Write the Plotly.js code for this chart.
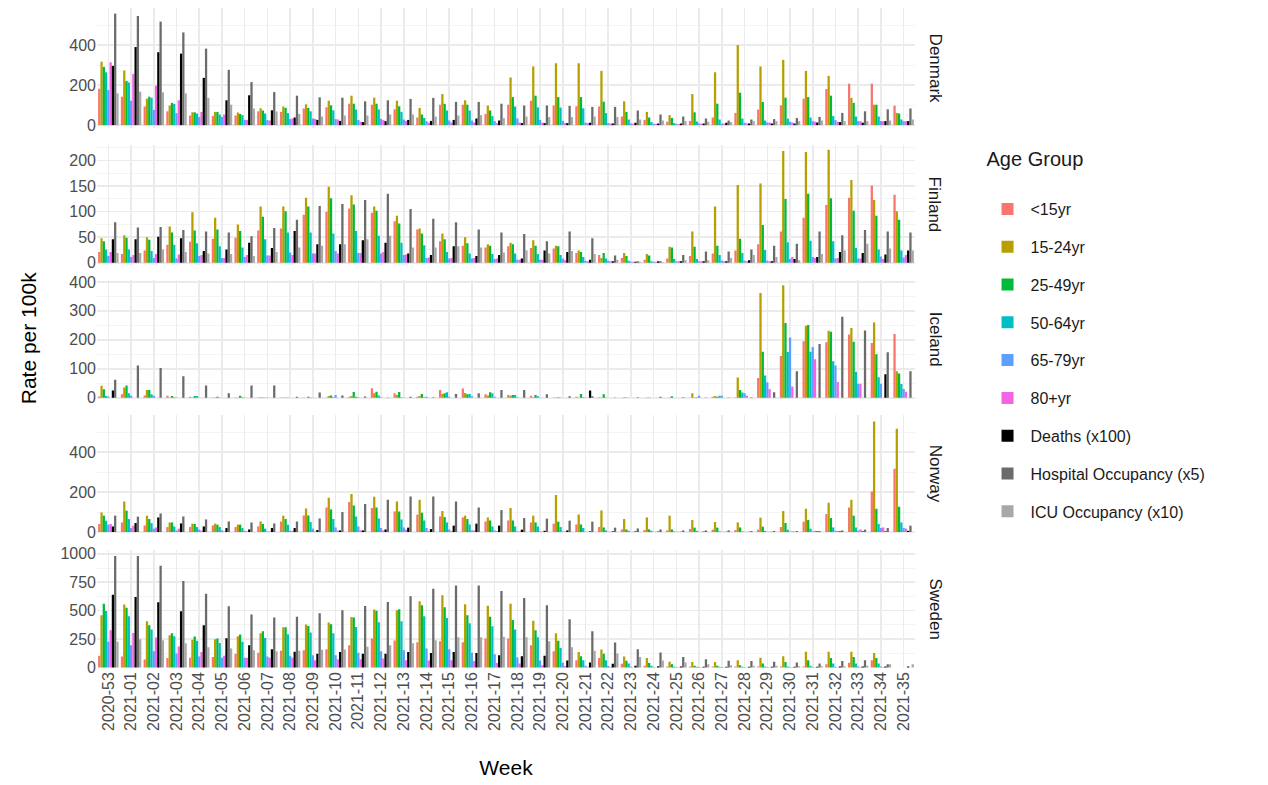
<!DOCTYPE html>
<html>
<head>
<meta charset="utf-8">
<script src="https://cdn.plot.ly/plotly-3.0.1.min.js"></script>
<style>
  html, body { margin: 0; padding: 0; background: #fff; }
  #plot { width: 1268px; height: 785px; }
</style>
</head>
<body>
<div id="plot"></div>
<script>
const weeks = ['2020-53','2021-01','2021-02','2021-03','2021-04','2021-05','2021-06','2021-07','2021-08',
  '2021-09','2021-10','2021-11','2021-12','2021-13','2021-14','2021-15','2021-16','2021-17','2021-18',
  '2021-19','2021-20','2021-21','2021-22','2021-23','2021-24','2021-25','2021-26','2021-27','2021-28',
  '2021-29','2021-30','2021-31','2021-32','2021-33','2021-34','2021-35'];

const groups = ['<15yr','15-24yr','25-49yr','50-64yr','65-79yr','80+yr',
  'Deaths (x100)','Hospital Occupancy (x5)','ICU Occupancy (x10)'];
const colors = ['#F8766D','#B79F00','#00BA38','#00BFC4','#619CFF','#F564E3','#000000','#6b6b6b','#a8a8a8'];

// Denmark
const dk_u15  = [182,142,93,69,48,45,48,69,66,83,89,107,102,79,38,102,102,56,102,122,98,94,93,43,26,17,21,38,61,78,99,132,180,207,207,97];
const dk_1524 = [317,273,132,98,64,66,63,84,93,104,122,147,137,122,86,155,124,98,238,293,309,309,271,119,66,50,155,264,400,293,326,271,246,136,102,61];
const dk_2549 = [291,220,142,111,64,66,56,73,86,86,99,107,107,94,53,106,102,73,140,147,140,140,117,66,38,36,64,107,162,116,137,140,147,111,102,58];
const dk_5064 = [264,213,137,106,58,53,50,58,60,69,74,78,78,66,36,73,73,45,93,89,88,84,60,28,15,10,18,28,33,23,33,38,45,43,43,28];
const dk_6579 = [175,122,76,60,40,41,26,25,30,33,30,26,31,28,20,23,23,20,33,26,21,12,10,8,7,6,8,8,12,13,17,20,25,20,20,20];
const dk_80   = [314,256,197,124,66,53,26,23,33,31,28,17,25,21,12,13,13,10,13,12,10,10,8,7,6,5,7,7,8,13,13,17,17,20,20,20];
const dk_dead = [296,390,364,357,236,124,149,74,38,26,21,15,20,26,21,26,33,23,10,10,10,12,8,12,8,8,8,12,8,8,8,13,15,12,20,20];
const dk_hosp = [557,545,517,463,382,276,215,165,147,139,137,119,124,131,136,116,116,107,98,98,96,91,91,73,53,43,33,23,28,30,35,41,61,69,79,83];
const dk_icu  = [159,167,164,159,136,102,83,68,56,43,48,48,53,53,43,48,50,35,43,40,40,43,40,28,23,20,17,15,20,20,20,23,20,20,23,28];

// Finland
const fi_u15  = [21,17,24,35,41,47,49,63,67,94,100,106,98,81,65,42,33,30,32,29,28,19,15,9,6,8,13,18,24,36,61,88,113,127,151,133];
const fi_1524 = [48,54,50,71,99,88,75,110,110,127,149,132,110,92,67,57,50,36,39,44,33,24,9,19,17,31,61,110,152,155,219,217,221,162,123,101];
const fi_2549 = [42,49,45,59,63,65,62,90,101,110,126,114,102,77,57,46,38,33,36,33,32,21,19,13,14,30,31,33,47,74,125,135,126,102,92,84];
const fi_5064 = [26,26,23,35,38,32,30,46,59,59,57,62,53,39,34,21,18,17,18,17,15,11,8,4,3,7,7,15,19,25,40,43,42,29,26,24];
const fi_6579 = [13,11,9,8,13,9,11,14,20,18,23,19,18,15,9,8,8,7,6,6,8,4,4,2,2,3,3,4,4,4,7,11,8,8,12,10];
const fi_80   = [21,15,17,16,15,9,15,14,15,18,18,19,21,16,10,9,9,8,6,6,5,3,3,2,2,3,3,3,3,3,11,9,9,8,7,15];
const fi_dead = [46,46,51,48,23,26,39,29,62,36,36,44,39,18,15,32,13,15,8,24,21,6,3,2,3,3,3,3,5,3,7,11,21,19,16,24];
const fi_hosp = [79,69,70,64,61,59,52,68,84,111,115,123,135,105,86,79,65,59,56,42,61,48,14,3,3,15,22,22,26,33,37,61,54,64,61,59];
const fi_icu  = [19,19,26,21,18,17,13,21,30,33,36,46,53,30,30,32,30,20,24,18,23,17,6,2,1,5,5,9,15,11,5,17,24,37,28,24];

// Iceland
const is_u15  = [4,12,8,7,3,1,1,1,1,1,1,3,33,15,3,27,32,12,9,7,1,3,2,0,0,0,0,3,1,68,144,195,192,218,189,220];
const is_1524 = [41,35,27,1,1,1,1,2,1,0,6,6,15,9,6,13,16,8,7,2,1,1,1,2,1,1,15,6,70,362,389,249,231,241,260,91];
const is_2549 = [29,42,27,6,6,3,7,1,1,3,8,20,21,20,13,15,12,19,9,9,2,13,12,1,1,5,1,3,27,159,258,251,228,193,150,84];
const is_5064 = [6,15,12,2,6,1,2,1,1,1,2,3,8,2,2,19,13,15,9,5,1,2,1,0,0,0,2,7,18,77,158,159,126,90,71,47];
const is_6579 = [4,7,7,1,1,0,1,1,0,1,9,2,2,1,3,3,5,3,2,1,0,1,0,0,0,0,7,7,15,53,208,175,111,48,48,30];
const is_80   = [0,0,0,0,0,0,0,0,0,0,0,0,0,0,0,0,0,0,0,0,0,0,0,0,0,0,0,0,7,30,39,133,54,48,0,21];
const is_dead = [25,0,0,0,0,0,0,0,0,0,0,0,0,0,0,0,0,0,0,0,0,25,0,0,0,0,0,0,0,0,0,0,0,0,81,0];
const is_hosp = [62,111,103,74,42,15,42,42,3,18,8,4,1,3,2,13,15,27,27,12,5,5,1,2,3,2,1,1,2,19,91,186,280,232,157,91];
const is_icu  = [0,0,0,0,0,0,0,0,0,0,0,0,0,0,0,0,0,0,0,0,0,0,0,0,0,0,0,0,0,0,0,0,0,0,0,0];

// Norway
const no_u15  = [40,48,33,25,25,33,25,28,53,83,123,150,120,103,87,78,73,53,58,48,42,38,25,13,10,8,15,12,10,12,25,52,90,123,203,317];
const no_1524 = [98,153,82,48,42,42,37,53,82,118,172,190,177,153,162,105,82,73,120,82,185,88,108,65,73,82,60,50,48,72,105,117,147,162,553,517];
const no_2549 = [82,107,65,48,40,37,37,40,65,83,113,133,123,103,97,75,65,58,58,48,52,38,23,13,13,13,22,22,23,27,45,60,70,82,117,127];
const no_5064 = [57,65,45,28,25,25,20,17,37,50,65,78,68,63,58,48,38,28,28,28,25,20,8,6,6,3,6,3,3,6,12,17,23,23,40,48];
const no_6579 = [37,20,17,8,12,8,6,3,6,17,23,28,20,23,20,13,8,8,3,3,3,1,1,1,1,1,1,1,1,1,2,3,6,6,20,20];
const no_80   = [40,32,23,17,7,3,3,2,6,3,8,8,8,12,6,5,8,5,2,2,2,1,1,1,1,1,1,1,1,1,3,6,6,13,23,17];
const no_dead = [28,45,73,43,28,20,13,20,20,10,8,8,13,22,15,32,42,32,12,6,8,3,3,3,2,1,2,1,1,1,1,3,3,3,3,6];
const no_hosp = [82,77,93,78,63,53,48,43,53,68,100,140,162,178,178,153,123,110,70,67,57,52,22,18,13,8,8,8,5,5,5,5,8,12,20,32];
const no_icu  = [0,0,0,0,0,0,0,0,0,0,0,0,0,0,0,0,0,0,0,0,0,0,0,0,0,0,0,0,0,0,0,0,0,0,0,0];

// Sweden
const se_u15  = [102,96,70,82,85,91,120,129,146,152,161,196,254,237,222,231,222,254,254,196,143,64,82,32,15,9,9,9,9,9,9,9,29,41,64,0];
const se_1524 = [459,553,406,284,243,249,275,301,354,377,395,444,509,503,582,635,556,544,561,412,301,135,158,96,82,50,47,47,64,85,99,137,137,137,126,0];
const se_2549 = [561,526,371,301,272,254,289,319,354,365,380,439,500,512,547,529,459,447,418,327,234,99,120,58,38,29,15,15,20,35,47,64,82,91,82,0];
const se_5064 = [497,450,333,275,234,216,225,260,292,307,301,357,398,406,450,436,389,363,333,266,170,64,64,35,15,9,5,5,5,9,9,15,35,35,35,0];
const se_6579 = [225,196,143,123,96,85,85,96,102,108,108,129,143,152,167,161,129,117,88,61,41,15,12,6,4,3,3,3,3,3,3,3,6,9,9,0];
const se_80   = [327,304,263,184,135,102,85,85,85,64,73,73,79,64,61,64,56,38,35,20,12,5,3,2,2,1,1,1,1,1,1,1,2,3,3,0];
const se_dead = [640,620,573,494,371,257,196,161,137,120,135,120,120,135,126,135,126,108,99,102,61,44,32,15,10,8,6,6,6,6,6,6,9,9,9,9];
const se_hosp = [980,980,895,760,649,538,465,439,447,477,503,541,576,626,693,722,722,673,611,547,424,319,219,161,132,91,73,58,56,50,44,35,56,64,29,0];
const se_icu  = [225,249,240,213,178,167,152,143,146,155,158,181,196,213,240,266,266,270,266,231,178,146,123,91,61,44,29,20,15,15,10,10,10,15,29,29];

const countries = ['Denmark','Finland','Iceland','Norway','Sweden'];
const series = [
  [dk_u15, dk_1524, dk_2549, dk_5064, dk_6579, dk_80, dk_dead, dk_hosp, dk_icu],
  [fi_u15, fi_1524, fi_2549, fi_5064, fi_6579, fi_80, fi_dead, fi_hosp, fi_icu],
  [is_u15, is_1524, is_2549, is_5064, is_6579, is_80, is_dead, is_hosp, is_icu],
  [no_u15, no_1524, no_2549, no_5064, no_6579, no_80, no_dead, no_hosp, no_icu],
  [se_u15, se_1524, se_2549, se_5064, se_6579, se_80, se_dead, se_hosp, se_icu]
];

// panel layout (top to bottom)
const domains = [[0.818,1],[0.611,0.792],[0.408,0.588],[0.2045,0.383],[0,0.179]];
const ranges = [[-15,585],[-4,230],[-3.5,407],[-5,585],[-5,1035]];
const dticks = [200,50,100,200,250];

let traces = [];
countries.forEach((c, ci) => {
  groups.forEach((g, gi) => {
    traces.push({
      type: 'bar',
      x: weeks,
      y: series[ci][gi],
      name: g,
      legendgroup: g,
      showlegend: ci === 0,
      marker: {color: colors[gi], line: {width: 0}},
      xaxis: 'x',
      yaxis: ci === 0 ? 'y' : 'y' + (ci + 1),
      hoverinfo: 'x+y+name'
    });
  });
});

const gridCol = '#ebebeb';
let layout = {
  width: 1268, height: 785,
  margin: {l: 97, r: 353, t: 8, b: 117},
  paper_bgcolor: '#fff', plot_bgcolor: '#fff',
  font: {family: 'Liberation Sans, Arial, sans-serif', color: '#4d4d4d', size: 14},
  barmode: 'group', bargap: 0.1, bargroupgap: 0,
  showlegend: true,
  legend: {
    x: 1.085, y: 0.80, xanchor: 'left', yanchor: 'top',
    title: {text: 'Age Group<br> ', font: {size: 20, color: '#1a1a1a'}},
    font: {size: 16, color: '#1a1a1a'},
    traceorder: 'grouped', tracegroupgap: 14, itemwidth: 36
  },
  xaxis: {
    anchor: 'y5', type: 'category', tickangle: -90,
    showgrid: true, gridcolor: gridCol, gridwidth: 1.6,
    ticks: '', tickfont: {size: 16, color: '#4d4d4d'},
    zeroline: false, showline: false,
    title: {text: 'Week', font: {size: 21, color: '#000'}, standoff: 30}
  },
  annotations: [{
    text: 'Rate per 100k', xref: 'paper', yref: 'paper', x: -0.084, y: 0.5,
    xanchor: 'center', yanchor: 'middle',
    textangle: -90, showarrow: false, font: {size: 21, color: '#000'}
  }]
};

countries.forEach((c, ci) => {
  const key = ci === 0 ? 'yaxis' : 'yaxis' + (ci + 1);
  layout[key] = {
    domain: domains[ci], range: ranges[ci], dtick: dticks[ci], tick0: 0,
    anchor: 'x', showgrid: true, gridcolor: gridCol, gridwidth: 1.6,
    minor: {showgrid: true, gridcolor: '#f4f4f4', gridwidth: 1, dtick: dticks[ci] / 2},
    zeroline: false, showline: false, ticks: '',
    tickfont: {size: 16, color: '#4d4d4d'}
  };
  layout.annotations.push({
    text: c, xref: 'paper', yref: 'paper', x: 1.025,
    xanchor: 'center', yanchor: 'middle',
    y: (domains[ci][0] + domains[ci][1]) / 2,
    textangle: 90, showarrow: false, font: {size: 17, color: '#1a1a1a'}
  });
});

Plotly.newPlot('plot', traces, layout, {displayModeBar: false, staticPlot: true});
</script>
</body>
</html>
